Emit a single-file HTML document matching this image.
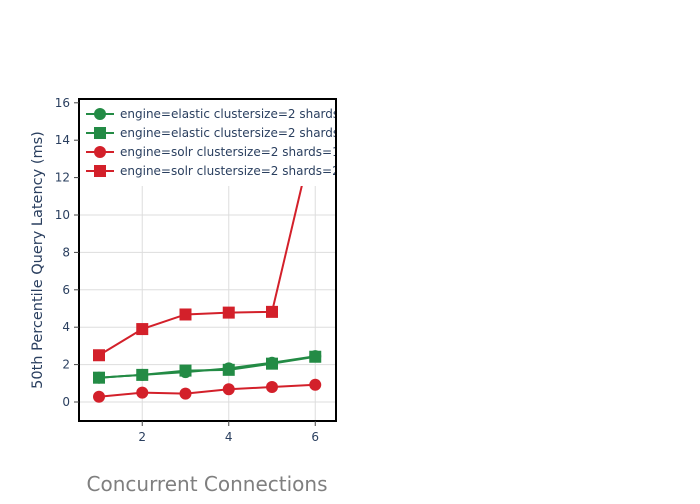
<!DOCTYPE html>
<html><head><meta charset="utf-8"><style>
body{margin:0;background:#fff;font-family:"DejaVu Sans",sans-serif}
</style></head><body>
<svg id="chart" width="700" height="500" xmlns="http://www.w3.org/2000/svg" font-family="DejaVu Sans, sans-serif">
<defs><clipPath id="clip"><rect x="79" y="99" width="257" height="322"/></clipPath></defs>
<g id="grid"></g>
<g id="series" clip-path="url(#clip)"></g>
<rect x="80" y="100" width="255" height="86" fill="#fff"/>
<g id="legend"></g>
<rect x="79" y="99" width="257" height="322" fill="none" stroke="#000" stroke-width="2"/>
<g id="ticks"></g>
<text x="207" y="491" text-anchor="middle" font-size="20" fill="#7f7f7f">Concurrent Connections</text>
<text transform="translate(42,260) rotate(-90)" text-anchor="middle" font-size="14.5" fill="#2a3f5f">50th Percentile Query Latency (ms)</text>
</svg>
<script>
const xs=[1,2,3,4,5,6];
const elastic1=[1.3,1.45,1.6,1.8,2.1,2.45];
const elastic2=[1.3,1.45,1.68,1.72,2.05,2.42];
const solr1=[0.28,0.5,0.45,0.68,0.8,0.92];
const solr2=[2.5,3.9,4.68,4.78,4.82,14.6];
const xTicks=[2,4,6];
const yTicks=[0,2,4,6,8,10,12,14,16];
const names=["engine=elastic clustersize=2 shards=1","engine=elastic clustersize=2 shards=2","engine=solr clustersize=2 shards=1","engine=solr clustersize=2 shards=2"];
const X=v=>99+(v-1)*43.25;
const Y=v=>402-v*18.7;
const NS="http://www.w3.org/2000/svg";
function mk(t,a,p){const e=document.createElementNS(NS,t);for(const k in a)e.setAttribute(k,a[k]);p.appendChild(e);return e;}
const grid=document.getElementById('grid'),ticks=document.getElementById('ticks');
xTicks.forEach(t=>{const l=mk('line',{x1:X(t),x2:X(t),y1:99,y2:421,stroke:'#ddd'},grid);

const tx=mk('text',{x:X(t),y:441,'text-anchor':'middle','font-size':12,fill:'#2a3f5f'},ticks);tx.textContent=t;

const tk=mk('line',{x1:X(t),x2:X(t),y1:421,y2:426,stroke:'#444'},ticks);
});
yTicks.forEach(t=>{const l=mk('line',{x1:79,x2:336,y1:Y(t),y2:Y(t),stroke:'#ddd'},grid);

const tx=mk('text',{x:70,y:Y(t)+4,'text-anchor':'end','font-size':12,fill:'#2a3f5f'},ticks);tx.textContent=t;

const tk=mk('line',{x1:74,x2:79,y1:Y(t),y2:Y(t),stroke:'#444'},ticks);
});
const G='#238b45',R='#d3202a';
const series=[[elastic1,G,'circle'],[elastic2,G,'square'],[solr1,R,'circle'],[solr2,R,'square']];
const sg=document.getElementById('series'),lg=document.getElementById('legend');
function marker(x,y,c,s,p){let m;if(s==='circle')m=mk('circle',{cx:x,cy:y,r:6,fill:c},p);else m=mk('rect',{x:x-6,y:y-6,width:12,height:12,fill:c},p);return m;}
series.forEach((s,i)=>{const [d,c,sh]=s;
const pl=mk('polyline',{points:d.map((v,j)=>X(xs[j])+','+Y(v)).join(' '),fill:'none',stroke:c,'stroke-width':2},sg);

d.forEach((v,j)=>{const m=marker(X(xs[j]),Y(v),c,sh,sg);});
const ly=114+i*19;
const ll=mk('line',{x1:86,x2:114,y1:ly,y2:ly,stroke:c,'stroke-width':2},lg);

const lm=marker(100,ly,c,sh,lg);
const lt=mk('text',{x:120,y:ly+4,'font-size':12,fill:'#2a3f5f'},lg);lt.textContent=names[i];
});
const cp=mk('clipPath',{id:'lclip'},document.querySelector('defs'));mk('rect',{x:79,y:99,width:257,height:100},cp);
lg.setAttribute('clip-path','url(#lclip)');
</script>
</body></html>
